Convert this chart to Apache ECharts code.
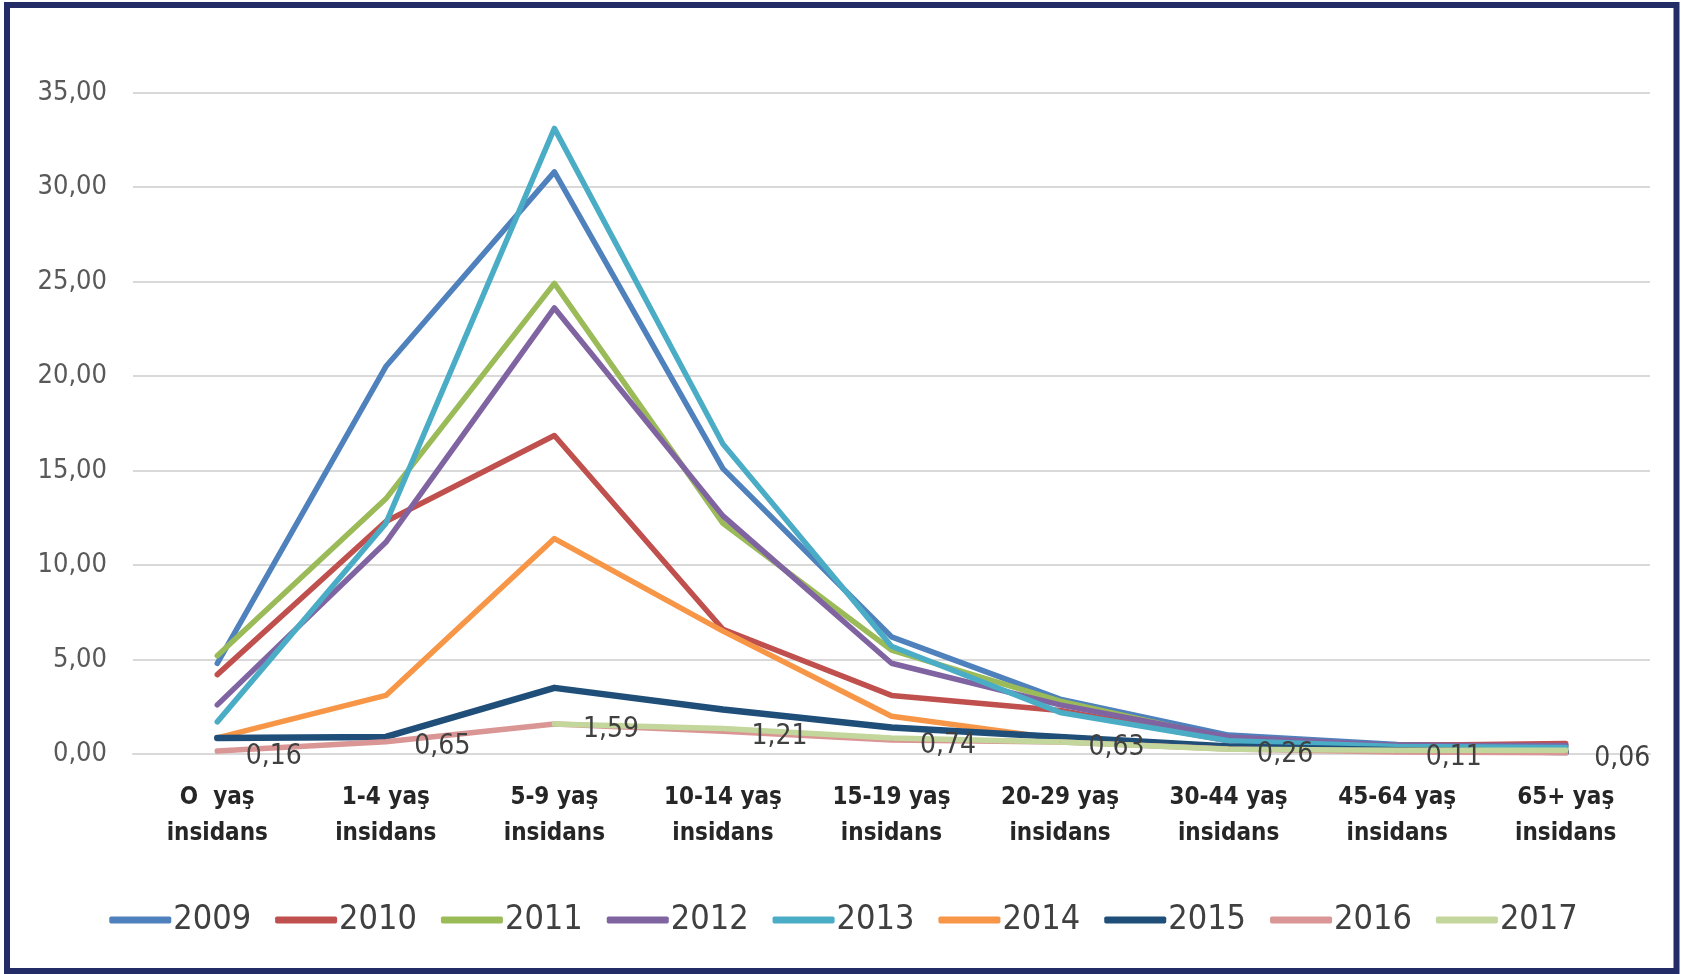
<!DOCTYPE html>
<html>
<head>
<meta charset="utf-8">
<script src="https://cdn.jsdelivr.net/npm/echarts@6/dist/echarts.min.js"></script>
<style>
html,body{margin:0;padding:0;background:#fff;}
#c{width:1687px;height:974px;}
</style>
</head>
<body>
<div id="c"></div>
<script>
const categories = ['O  yaş\ninsidans','1-4 yaş\ninsidans','5-9 yaş\ninsidans','10-14 yaş\ninsidans','15-19 yaş\ninsidans','20-29 yaş\ninsidans','30-44 yaş\ninsidans','45-64 yaş\ninsidans','65+ yaş\ninsidans'];
const yTicks = [0,5,10,15,20,25,30,35];
const years = ['2009','2010','2011','2012','2013','2014','2015','2016','2017'];
const colors = ['#4F81BD','#C0504D','#9BBB59','#8064A2','#4BACC6','#F79646','#1F4E79','#D99694','#C3D69B'];
const v2009 = [4.8, 20.5, 30.8, 15.1, 6.2, 2.9, 1.0, 0.5, 0.45];
const v2010 = [4.2, 12.3, 16.85, 6.6, 3.1, 2.3, 0.7, 0.45, 0.55];
const v2011 = [5.2, 13.5, 24.9, 12.2, 5.5, 2.8, 0.8, 0.4, 0.3];
const v2012 = [2.6, 11.2, 23.6, 12.6, 4.8, 2.6, 0.9, 0.45, 0.45];
const v2013 = [1.7, 12.2, 33.1, 16.4, 5.7, 2.2, 0.7, 0.4, 0.35];
const v2014 = [0.85, 3.1, 11.4, 6.5, 2.0, 0.8, 0.3, 0.2, 0.15];
const v2015 = [0.85, 0.9, 3.5, 2.35, 1.4, 0.9, 0.4, 0.2, 0.1];
const v2016 = [0.16, 0.65, 1.59, 1.21, 0.74, 0.63, 0.26, 0.11, 0.06];
const v2017 = [null, null, 1.59, 1.35, 0.85, 0.63, 0.25, 0.2, 0.2];
const values = [v2009,v2010,v2011,v2012,v2013,v2014,v2015,v2016,v2017];

const narrow = '"Liberation Sans Narrow","DejaVu Sans Condensed","Liberation Sans",sans-serif';
const fmt = v => Number(v).toFixed(2).replace('.', ',');

const series = years.map((y,i) => ({
  name: y,
  type: 'line',
  data: values[i],
  symbol: 'none',
  connectNulls: false,
  lineStyle: {width: i === 6 ? 6.5 : 5.5, color: colors[i], cap: 'round', join: 'round'},
  itemStyle: {color: colors[i]},
  emphasis: {disabled: true},
  z: 2 + i
}));
// data labels of the 2016 series, drawn above all lines
series.push({
  name: '2016 etiket',
  type: 'line',
  data: v2016,
  symbol: 'circle',
  symbolSize: 1,
  showSymbol: true,
  lineStyle: {width: 0, opacity: 0},
  itemStyle: {color: colors[7]},
  label: {
    show: true, position: [29, -8],
    formatter: p => fmt(p.value), color: '#404040',
    fontFamily: narrow, fontSize: 28
  },
  labelLayout: {hideOverlap: false},
  emphasis: {disabled: true},
  z: 50
});

const chart = echarts.init(document.getElementById('c'), null, {renderer: 'canvas'});
chart.setOption({
  animation: false,
  backgroundColor: '#fff',
  grid: {left: 133, right: 37, top: 92.5, bottom: 220, containLabel: false},
  xAxis: {
    type: 'category', data: categories, boundaryGap: true,
    axisLine: {show: true, lineStyle: {color: '#D9D9D9', width: 2}},
    axisTick: {show: false},
    axisLabel: {color: '#262626', fontWeight: 'bold', fontFamily: narrow, fontSize: 24, lineHeight: 36, margin: 26, interval: 0}
  },
  yAxis: {
    type: 'value', min: yTicks[0], max: yTicks[yTicks.length-1], interval: 5,
    axisLine: {show: false}, axisTick: {show: false},
    splitLine: {lineStyle: {color: '#D9D9D9', width: 2}},
    axisLabel: {color: '#595959', fontFamily: narrow, fontSize: 27, margin: 26, formatter: v => fmt(v)}
  },
  legend: {
    data: years, bottom: 32, left: 'center',
    icon: 'roundRect', itemWidth: 62, itemHeight: 7, itemGap: 24,
    textStyle: {color: '#404040', fontFamily: narrow, fontSize: 34, padding: [0,0,0,-3]}
  },
  graphic: [{
    type: 'rect', silent: true, z: 100,
    shape: {x: 7, y: 5, width: 1669.5, height: 966},
    style: {fill: 'none', stroke: '#232C66', lineWidth: 6}
  }],
  series: series
});
</script>
</body>
</html>
